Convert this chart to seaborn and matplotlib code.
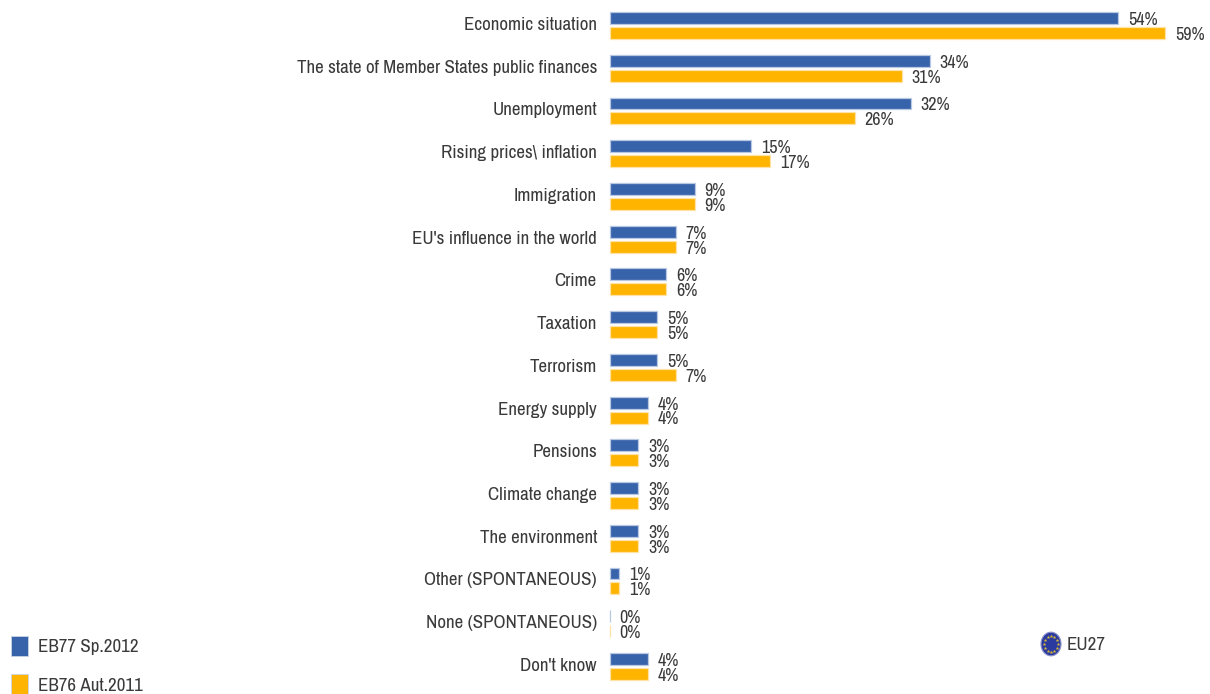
import numpy as np
import pandas as pd
import seaborn as sns
import matplotlib
matplotlib.use("Agg")
import matplotlib.pyplot as plt
from matplotlib.patches import Ellipse
from matplotlib.transforms import ScaledTranslation

categories = ["Economic situation", "The state of Member States public finances", "Unemployment",
              "Rising prices\\ inflation", "Immigration", "EU's influence in the world", "Crime",
              "Taxation", "Terrorism", "Energy supply", "Pensions", "Climate change",
              "The environment", "Other (SPONTANEOUS)", "None (SPONTANEOUS)", "Don't know"]
eb77 = [54, 34, 32, 15, 9, 7, 6, 5, 5, 4, 3, 3, 3, 1, 0, 4]
eb76 = [59, 31, 26, 17, 9, 7, 6, 5, 7, 4, 3, 3, 3, 1, 0, 4]
series_names = ["EB77 Sp.2012", "EB76 Aut.2011"]
colors = ["#3763AB", "#FFB400"]
edges = ["#B9C8E2", "#FFE3A6"]
text_color = "#3A3A3A"

sns.set_theme(style="white")
plt.rcParams["font.family"] = ["Archivo Narrow", "Liberation Sans", "DejaVu Sans"]
FS = 13.65
FS_VALUE = 13.0

W, H = 1210, 694
df = pd.DataFrame({
    "category": categories * 2,
    "value": eb77 + eb76,
    "series": [series_names[0]] * len(categories) + [series_names[1]] * len(categories),
})

fig = plt.figure(figsize=(W / 100, H / 100), dpi=100, facecolor="white")
ax = fig.add_axes([610 / W, 0, 600 / W, 1])
sns.barplot(data=df, y="category", x="value", hue="series", order=categories,
            hue_order=series_names, palette=colors, orient="h", width=0.70, gap=0.2,
            saturation=1, errorbar=None, ax=ax)

ax.set_xlim(0, 600 / 9.41)
ax.set_ylim(15.645, -0.597)
ax.set_xlabel("")
ax.set_ylabel("")
ax.set_xticks([])
sns.despine(ax=ax, left=True, bottom=True, top=True, right=True)
ax.tick_params(axis="y", length=0, pad=9.4, labelsize=FS, labelcolor=text_color)

# Category labels sit slightly above the centre of each bar pair
shift_up = ScaledTranslation(0, 2 / 100, fig.dpi_scale_trans)
for lab in ax.get_yticklabels():
    lab.set_transform(lab.get_transform() + shift_up)

for container, edge in zip(ax.containers, edges):
    for bar in container:
        bar.set_edgecolor(edge)
        bar.set_linewidth(0.9)
        bar.set_clip_on(False)
    for t in ax.bar_label(container, fmt="%d%%", padding=7, fontsize=FS_VALUE, color=text_color):
        t.xyann = (7, -1.4)

handles, labels = ax.get_legend_handles_labels()
ax.legend_.remove()
leg = fig.legend(handles, labels, loc="lower left", bbox_to_anchor=(5.5 / W, -6 / H),
                 bbox_transform=fig.transFigure, frameon=False, fontsize=FS,
                 handlelength=0.9, handleheight=1.246, handletextpad=0.52, labelspacing=0.97,
                 borderpad=0.3, borderaxespad=0, labelcolor=text_color)
for h in leg.legend_handles:
    h.set_edgecolor("#C9D3E6")
    h.set_linewidth(0.6)

# EU27 marker: circle with a ring of stars
badge = fig.add_axes([1040 / W, 1 - 657 / H, 22 / W, 26 / H])
badge.set_xlim(-1.1, 1.1)
badge.set_ylim(-1.1, 1.1)
badge.axis("off")
badge.add_patch(Ellipse((0, 0), 2.0, 2.0, facecolor="#2B3A9E", edgecolor="#8A90C8", linewidth=0.8))
angles = np.deg2rad(np.arange(0, 360, 30))
badge.scatter(0.68 * np.cos(angles), 0.68 * np.sin(angles), marker="*", s=8, color="#D9B83A", linewidths=0)
fig.text(1067 / W, 1 - 645 / H, "EU27", fontsize=FS, color=text_color, va="center", ha="left")

fig.savefig("out.png", dpi=100, facecolor="white")
